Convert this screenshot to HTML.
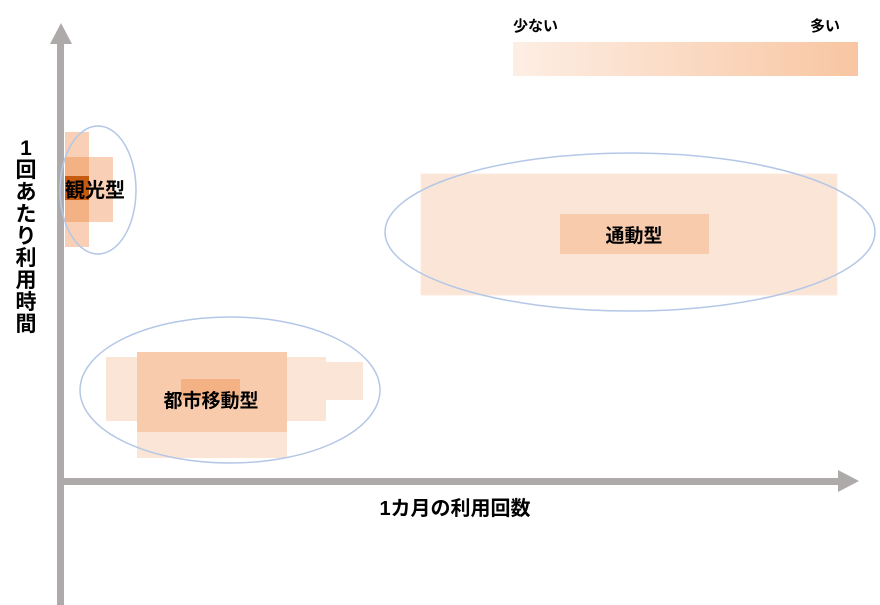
<!DOCTYPE html>
<html><head><meta charset="utf-8"><style>
html,body{margin:0;padding:0;background:#fff;}
svg{display:block;}
text{font-family:"Liberation Sans","Noto Sans CJK JP",sans-serif;font-weight:bold;fill:#000;}
</style></head><body>
<svg width="880" height="605" viewBox="0 0 880 605" xmlns="http://www.w3.org/2000/svg">
<defs><linearGradient id="g" x1="0" x2="1" y1="0" y2="0"><stop offset="0" stop-color="#fdeee4"/><stop offset="1" stop-color="#f8c6a2"/></linearGradient></defs>
<rect x="57" y="40" width="7" height="565" fill="#aeaaaa"/>
<polygon points="50,44 72,44 61,23" fill="#aeaaaa"/>
<rect x="57" y="478" width="784" height="7" fill="#aeaaaa"/>
<polygon points="838,470 838,492 859,481" fill="#aeaaaa"/>
<rect x="513" y="42" width="345" height="34" fill="url(#g)"/>
<text x="513" y="31" font-size="15">少ない</text>
<text x="810" y="31" font-size="15">多い</text>
<rect x="65" y="132" width="24" height="115" fill="#f8cbad" opacity="0.9"/>
<rect x="65" y="157" width="48" height="65" fill="#f8cbad" opacity="0.9"/>
<rect x="65" y="157" width="24" height="65" fill="#f4b183"/>
<rect x="65" y="176" width="24" height="24" fill="#c55a11"/>
<ellipse cx="98" cy="190" rx="38" ry="64" fill="none" stroke="#b4c7e7" stroke-width="1.5"/>
<text x="65" y="197" font-size="20">観光型</text>
<rect x="106" y="357" width="220" height="64" fill="#fbe5d6"/>
<rect x="137" y="432" width="150" height="26" fill="#fbe5d6"/>
<rect x="326" y="362" width="37" height="38" fill="#fbe5d6"/>
<rect x="137" y="352" width="150" height="80" fill="#f8cbad"/>
<rect x="181" y="379" width="59" height="21" fill="#f4b183"/>
<ellipse cx="230" cy="390" rx="150" ry="73" fill="none" stroke="#b4c7e7" stroke-width="1.5"/>
<text x="211" y="407" font-size="19" text-anchor="middle">都市移動型</text>
<rect x="421" y="174" width="416" height="121" fill="#fbe5d6" stroke="#fcebe0"/>
<rect x="560" y="214" width="149" height="40" fill="#f8cbad"/>
<ellipse cx="630" cy="232" rx="245" ry="79" fill="none" stroke="#b4c7e7" stroke-width="1.5"/>
<text x="634" y="242" font-size="19" text-anchor="middle">通動型</text>
<text x="455" y="515" font-size="20" text-anchor="middle">1カ月の利用回数</text>
<g font-size="21" text-anchor="middle">
<text x="26" y="155">1</text>
<text x="26" y="177">回</text>
<text x="26" y="199">あ</text>
<text x="26" y="221">た</text>
<text x="26" y="243">り</text>
<text x="26" y="265">利</text>
<text x="26" y="287">用</text>
<text x="26" y="309">時</text>
<text x="26" y="331">間</text>
</g>
</svg>
</body></html>
